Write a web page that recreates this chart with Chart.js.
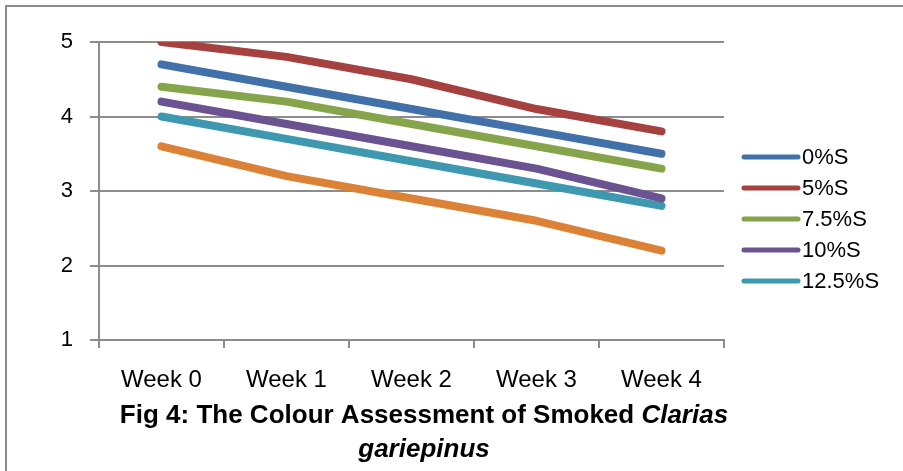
<!DOCTYPE html>
<html>
<head>
<meta charset="utf-8">
<title>Colour Assessment of Smoked Clarias gariepinus</title>
<script src="https://cdn.jsdelivr.net/npm/chart.js@4/dist/chart.umd.min.js"></script>
<style>
  html, body { margin: 0; padding: 0; background: #ffffff; }
  #wrap { width: 903px; height: 471px; position: relative; }
</style>
</head>
<body>
<div id="wrap"><canvas id="chart" width="903" height="471"></canvas></div>
<script>
// Sensory colour scores by storage week
const weeks = ['Week 0', 'Week 1', 'Week 2', 'Week 3', 'Week 4'];
const seriesNames = ['0%S', '5%S', '7.5%S', '10%S', '12.5%S'];
const s0 = [4.7, 4.4, 4.1, 3.8, 3.5];
const s5 = [5.0, 4.8, 4.5, 4.1, 3.8];
const s75 = [4.4, 4.2, 3.9, 3.6, 3.3];
const s10 = [4.2, 3.9, 3.6, 3.3, 2.9];
const s125 = [4.0, 3.7, 3.4, 3.1, 2.8];
const sExtra = [3.6, 3.2, 2.9, 2.6, 2.2];   // sixth series, not listed in the legend
const yTicks = [1, 2, 3, 4, 5];

const colours = ['#4271AA', '#A5413E', '#86A44B', '#6B5391', '#3E98AF', '#DC8237'];
const FONT = '"Liberation Sans", Arial, sans-serif';
const captionBold = 'Fig 4: The Colour Assessment of Smoked ';
const captionItalic1 = 'Clarias';
const captionItalic2 = 'gariepinus';

const values = [s0, s5, s75, s10, s125, sExtra];
const datasets = values.map((v, i) => ({
  label: i < seriesNames.length ? seriesNames[i] : '',
  data: v,
  borderColor: colours[i],
  backgroundColor: colours[i],
  borderWidth: 8,
  borderCapStyle: 'round',
  borderJoinStyle: 'round',
  pointRadius: 0,
  pointHoverRadius: 0,
  tension: 0,
  fill: false,
  clip: { left: 10, right: 10, top: 0, bottom: 10 }
}));

// Frame, legend and two-line caption
const decor = {
  id: 'decor',
  beforeDraw(chart) {
    const ctx = chart.ctx;
    ctx.save();
    ctx.fillStyle = '#ffffff';
    ctx.fillRect(0, 0, chart.width, chart.height);
    ctx.strokeStyle = '#8c8c8c';
    ctx.lineWidth = 2;
    ctx.beginPath();
    ctx.moveTo(6, chart.height);
    ctx.lineTo(6, 6);
    ctx.lineTo(chart.width, 6);
    ctx.stroke();
    ctx.restore();
  },
  afterDraw(chart) {
    const ctx = chart.ctx;
    const area = chart.chartArea;
    ctx.save();
    // legend
    const lx = area.right + 20, ly = 157, step = 31;
    ctx.font = '22px ' + FONT;
    ctx.textBaseline = 'middle';
    ctx.textAlign = 'left';
    chart.data.datasets.forEach((ds, i) => {
      if (!ds.label) return;
      const y = ly + i * step;
      ctx.strokeStyle = ds.borderColor;
      ctx.lineWidth = 5;
      ctx.lineCap = 'round';
      ctx.beginPath();
      ctx.moveTo(lx, y);
      ctx.lineTo(lx + 54, y);
      ctx.stroke();
      ctx.fillStyle = '#000000';
      ctx.fillText(ds.label, lx + 58, y + 1);
    });
    // caption
    const cx = 424;
    ctx.fillStyle = '#000000';
    ctx.textBaseline = 'alphabetic';
    ctx.font = 'bold 26px ' + FONT;
    const w1 = ctx.measureText(captionBold).width;
    ctx.font = 'italic bold 26px ' + FONT;
    const w2 = ctx.measureText(captionItalic1).width;
    let x = cx - (w1 + w2) / 2;
    ctx.font = 'bold 26px ' + FONT;
    ctx.fillText(captionBold, x, 423);
    ctx.font = 'italic bold 26px ' + FONT;
    ctx.fillText(captionItalic1, x + w1, 423);
    ctx.textAlign = 'center';
    ctx.fillText(captionItalic2, cx, 457);
    ctx.restore();
  }
};

new Chart(document.getElementById('chart'), {
  type: 'line',
  data: { labels: weeks, datasets: datasets },
  plugins: [decor],
  options: {
    responsive: false,
    devicePixelRatio: 1,
    animation: false,
    events: [],
    layout: { padding: { left: 0, top: 42, right: 179, bottom: 0 } },
    plugins: { legend: { display: false }, title: { display: false }, tooltip: { enabled: false } },
    scales: {
      x: {
        offset: true,
        afterFit(scale) { scale.height = 131; },
        grid: { display: true, offset: true, drawOnChartArea: false, drawTicks: true, tickLength: 8, color: '#8c8c8c', lineWidth: 2 },
        border: { display: true, color: '#8c8c8c', width: 2 },
        ticks: { color: '#000000', padding: 18, maxRotation: 0, font: { family: FONT, size: 24 } }
      },
      y: {
        min: 1,
        max: 5,
        afterFit(scale) { scale.width = 99; },
        afterBuildTicks(scale) { scale.ticks = yTicks.map(v => ({ value: v })); },
        grid: { display: true, drawTicks: true, tickLength: 9, color: '#8c8c8c', lineWidth: 2 },
        border: { display: true, color: '#8c8c8c', width: 2 },
        ticks: { color: '#000000', padding: 17, font: { family: FONT, size: 22 } }
      }
    }
  }
});
</script>
</body>
</html>
